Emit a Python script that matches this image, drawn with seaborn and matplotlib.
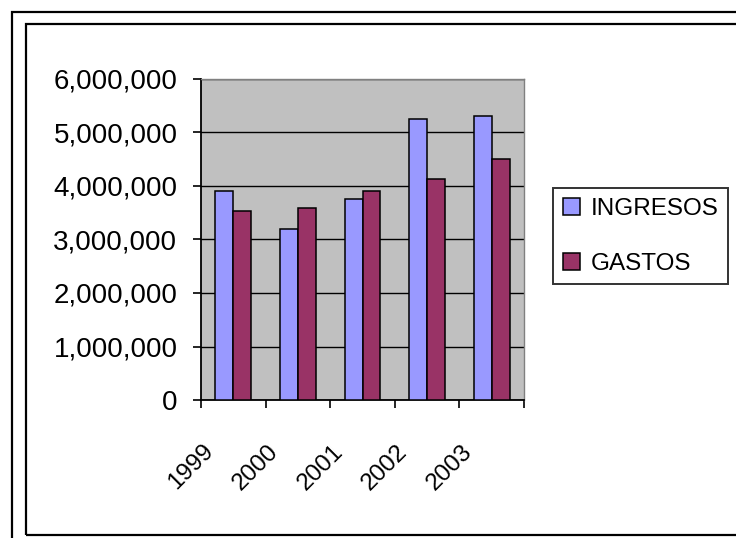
import numpy as np
import pandas as pd
import matplotlib
matplotlib.use("Agg")
import matplotlib.pyplot as plt
import matplotlib.transforms as mtransforms
from matplotlib.patches import Rectangle
from matplotlib.ticker import FuncFormatter, FixedLocator
import seaborn as sns

# ── DATA ─────────────────────────────────────────────────────────────────────
years = ["1999", "2000", "2001", "2002", "2003"]
ingresos = [3910000, 3200000, 3760000, 5260000, 5300000]
gastos = [3540000, 3580000, 3910000, 4140000, 4510000]
series_names = ["INGRESOS", "GASTOS"]
y_ticks = [0, 1000000, 2000000, 3000000, 4000000, 5000000, 6000000]

df = pd.DataFrame({
    "year": years * 2,
    "value": ingresos + gastos,
    "serie": [series_names[0]] * len(years) + [series_names[1]] * len(years),
})

# ── STYLE ────────────────────────────────────────────────────────────────────
sns.set_style("white")
plt.rcParams["font.family"] = ["Liberation Sans", "DejaVu Sans"]
plt.rcParams["text.color"] = "black"
plt.rcParams["xtick.color"] = "black"
plt.rcParams["ytick.color"] = "black"

palette = {"INGRESOS": "#9999FF", "GASTOS": "#993366"}

fig = plt.figure(figsize=(7.36, 5.38), dpi=100)
ax = fig.add_axes([201 / 736, 1 - 400 / 538, 323 / 736, 321 / 538])
ax.set_facecolor("#C0C0C0")

sns.barplot(data=df, x="year", y="value", hue="serie", palette=palette,
            width=0.556, edgecolor="black", linewidth=1.1, saturation=1,
            ax=ax, zorder=3)

# axes / grid
ax.set_ylim(y_ticks[0], y_ticks[-1])
ax.set_xlim(-0.5, len(years) - 0.5)
ax.set_yticks(y_ticks)
ax.yaxis.set_major_formatter(FuncFormatter(lambda v, p: f"{int(v):,}"))
ax.grid(axis="y", color="black", linewidth=1.0, zorder=0)
ax.set_axisbelow(True)
ax.set_xlabel("")
ax.set_ylabel("")

for side in ["left", "bottom"]:
    ax.spines[side].set_color("black")
    ax.spines[side].set_linewidth(1.3)
for side in ["top", "right"]:
    ax.spines[side].set_visible(True)
    ax.spines[side].set_color("#808080")
    ax.spines[side].set_linewidth(1.0)

ax.tick_params(axis="y", which="major", direction="out", length=6, width=1.2,
               color="black", labelcolor="black", pad=11, labelsize=20, left=True)
# tick marks at the category boundaries, labels at the centres
ax.xaxis.set_minor_locator(FixedLocator(np.arange(-0.5, len(years), 1.0)))
ax.tick_params(axis="x", which="minor", direction="out", length=6, width=1.2,
               color="black", bottom=True)
ax.tick_params(axis="x", which="major", length=0, pad=0, labelcolor="black")

offset = mtransforms.ScaledTranslation(-0.23, -0.48, fig.dpi_scale_trans)
for lab in ax.get_xticklabels():
    lab.set_fontsize(17.5)
    lab.set_color("black")
    lab.set_rotation(45)
    lab.set_ha("right")
    lab.set_va("center")
    lab.set_rotation_mode("anchor")
    lab.set_transform(lab.get_transform() + offset)

# legend on the right
handles, labels = ax.get_legend_handles_labels()
ax.legend_.remove()
leg = fig.legend(handles, labels, loc="upper left",
                 bbox_to_anchor=(553 / 736, 1 - 188 / 538), bbox_transform=fig.transFigure,
                 borderaxespad=0, frameon=True, fancybox=False, fontsize=17.5,
                 handlelength=0.7, handleheight=0.7, handletextpad=0.45,
                 labelspacing=1.35, borderpad=0.4)
leg.get_frame().set_edgecolor("black")
leg.get_frame().set_linewidth(1.4)
leg.get_frame().set_facecolor("white")
for t in leg.get_texts():
    t.set_color("black")

# chart frames (cropped Excel window)
fig.add_artist(Rectangle((12 / 736, -0.2), 1.2, 1 - 12 / 538 + 0.2, transform=fig.transFigure,
                         fill=False, edgecolor="black", linewidth=1.6))
fig.add_artist(Rectangle((26 / 736, 1 - 535 / 538), 1.2, (535 - 24) / 538, transform=fig.transFigure,
                         fill=False, edgecolor="black", linewidth=1.6))

fig.savefig("out.png", dpi=100)
plt.close(fig)
